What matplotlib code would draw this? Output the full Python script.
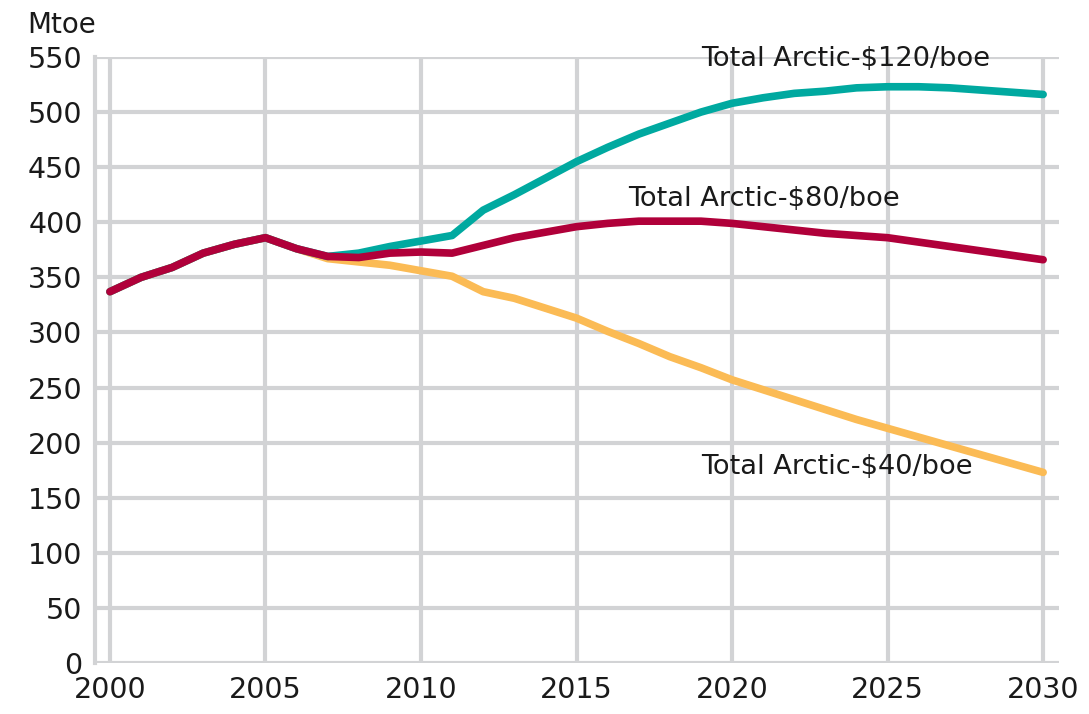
import matplotlib.pyplot as plt

years = list(range(2000, 2031))

# Mtoe
total_120 = [337, 350, 359, 372, 380, 386, 376, 369, 372, 378, 383, 388,
             411, 425, 440, 455, 468, 480, 490, 500, 508, 513, 517, 519,
             522, 523, 523, 522, 520, 518, 516]
total_80 = [337, 350, 359, 372, 380, 386, 376, 369, 368, 372, 373, 372,
            379, 386, 391, 396, 399, 401, 401, 401, 399, 396, 393, 390,
            388, 386, 382, 378, 374, 370, 366]
total_40 = [337, 350, 359, 372, 380, 386, 376, 367, 364, 361, 356, 351,
            337, 331, 322, 313, 301, 290, 278, 268, 257, 248, 239, 230,
            221, 213, 205, 197, 189, 181, 173]

labels = ['Total Arctic-$120/boe', 'Total Arctic-$80/boe', 'Total Arctic-$40/boe']
x_ticks = [2000, 2005, 2010, 2015, 2020, 2025, 2030]
y_ticks = list(range(0, 551, 50))

grid_col = '#d2d3d5'
txt_col = '#1a1a1a'

fig = plt.figure(figsize=(10.89, 7.14), dpi=100)
ax = fig.add_axes([95 / 1089, 1 - 663 / 714, 964 / 1089, 606 / 714])

ax.set_xlim(1999.52, 2030.51)
ax.set_ylim(0, 550)
ax.set_xticks(x_ticks)
ax.set_yticks(y_ticks)
ax.grid(True, color=grid_col, linewidth=3, zorder=0)
ax.set_axisbelow(True)
for side in ['top', 'right', 'bottom']:
    ax.spines[side].set_visible(False)
ax.spines['left'].set_color(grid_col)
ax.spines['left'].set_linewidth(3)
ax.tick_params(length=0, labelsize=20.5, colors=txt_col)
ax.tick_params(axis='y', pad=9)
ax.tick_params(axis='x', pad=9)

ax.plot(years, total_40, color='#fbbb55', lw=5.5, solid_capstyle='round', zorder=3)
ax.plot(years, total_120, color='#00a9a0', lw=5.5, solid_capstyle='round', zorder=4)
ax.plot(years, total_80, color='#b0003a', lw=5.5, solid_capstyle='round', zorder=5)

ax.text(2019.0, 548, labels[0], fontsize=19.6, color=txt_col, va='center', zorder=6)
ax.text(2016.65, 421, labels[1], fontsize=19.6, color=txt_col, va='center', zorder=6)
ax.text(2019.0, 178, labels[2], fontsize=19.6, color=txt_col, va='center', zorder=6)

fig.text(27 / 1089, 1 - 25 / 714, 'Mtoe', fontsize=20, color=txt_col, va='center')

plt.savefig('out.png', dpi=100)
